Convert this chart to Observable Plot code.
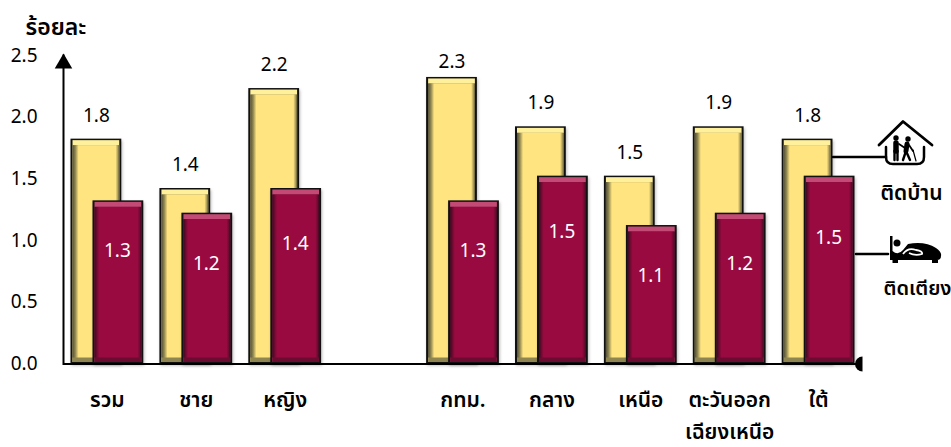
<!DOCTYPE html>
<html><head><meta charset="utf-8">
<script src="https://cdn.jsdelivr.net/npm/d3@7"></script>
<script src="https://cdn.jsdelivr.net/npm/@observablehq/plot@0.6"></script>
<style>html,body{margin:0;padding:0;background:#fff}svg{display:block}</style>
</head><body><div id="c"></div>
<script>
const categories = ["รวม","ชาย","หญิง"," ","กทม.","กลาง","เหนือ","ตะวันออก\nเฉียงเหนือ","ใต้"];
const groups = categories.filter(c => c !== " ");
const homeValues = [1.81,1.41,2.22,2.31,1.91,1.51,1.91,1.81];
const bedValues  = [1.31,1.21,1.41,1.31,1.51,1.11,1.21,1.51];
const homeLabels = ["1.8","1.4","2.2","2.3","1.9","1.5","1.9","1.8"];
const bedLabels  = ["1.3","1.2","1.4","1.3","1.5","1.1","1.2","1.5"];
const yTicks = [0,0.5,1,1.5,2,2.5];
const homeName = "ติดบ้าน", bedName = "ติดเตียง", yTitle = "ร้อยละ";

const home = groups.map((c,i)=>({c,v:homeValues[i],t:homeLabels[i]}));
const bed  = groups.map((c,i)=>({c,v:bedValues[i],t:bedLabels[i]}));

const font = "'Noto Sans','Noto Sans Thai',Tahoma,'DejaVu Sans',sans-serif";
const halfDisc = {draw(ctx,size){const r=Math.sqrt(size/Math.PI);ctx.moveTo(0,-r);ctx.arc(0,0,r,-Math.PI/2,Math.PI/2,true);ctx.closePath();}};

function defs(){
  return ()=>{
    const d=d3.create("svg:defs");
    const grad=(id,stops)=>{const g=d.append("linearGradient").attr("id",id).attr("x1",0).attr("x2",1).attr("y1",0).attr("y2",0);
      stops.forEach(([o,c])=>g.append("stop").attr("offset",o).attr("stop-color",c));};
    grad("gHome",[[0,"#55513a"],[0.06,"#8f8650"],[0.13,"#FFE480"],[0.92,"#FFE480"],[0.97,"#a89a58"],[1,"#5f5a3a"]]);
    grad("gBed",[[0,"#3c0a20"],[0.05,"#6b0b30"],[0.1,"#990A40"],[0.92,"#990A40"],[0.97,"#6b0b30"],[1,"#3c0a20"]]);
    return d.node();
  };
}
function bevelBar(data,dx,top,bottom,grad,edge){
  const o={x:"c",y:"v",dx};
  return [
    Plot.barY(data,{...o,fill:edge,insetTop:-1.5,insetLeft:-0.5,insetRight:-0.5,imageFilter:"drop-shadow(1px 2px 1.5px #0004)"}),
    Plot.barY(data,{...o,fill:top,inset:1.5,insetTop:0}),
    Plot.barY(data,{...o,fill:bottom,inset:1.5,insetTop:5}),
    Plot.barY(data,{...o,fill:grad,insetLeft:1.5,insetRight:1.5,insetBottom:6,insetTop:5})
  ];
}
function icons(){
  return ()=>{
    const g=d3.create("svg:g");
    const line=(d,w=2.5)=>g.append("path").attr("d",d).attr("stroke","#000").attr("stroke-width",w).attr("fill","none").attr("stroke-linecap","round").attr("stroke-linejoin","round");
    const disc=(x,y,r)=>g.append("circle").attr("cx",x).attr("cy",y).attr("r",r).attr("fill","#000");
    // leader lines
    line("M833 157H886",2.6); line("M856 254H888",2.6);
    // house
    line("M879 145L903 121.5L932 145",2.8);
    line("M886 147V157Q886 164 893 164H917Q924 164 924 157V147",2.5);
    // two figures
    disc(896,138,2.7); disc(908,139,2.7);
    line("M896 143V151",5.5);
    line("M894.5 151V160M897.5 151V160",2.4);
    line("M899 144L905 148",1.8);
    line("M907 144L906 151",5);
    line("M906 151L903 160M906 151L910 160",2.4);
    line("M909 145L913 151",1.8);
    line("M913 150L916 161",1.2);
    // bed
    g.append("path").attr("fill","#000").attr("d","M890 236H892.5V251Q898 256 903 250L908 244Q925 241 936 248Q942 252 941 256Q941 260 937 260H938V263H932V260H898V263H892.5V260H890Z");
    disc(897,243,3.5);
    g.append("path").attr("d","M903 254Q908 247 916 250Q923 251 922 254Q915 256 909 253").attr("fill","none").attr("stroke","#fff").attr("stroke-width",1.8);
    return g.node();
  };
}
const maroonLabel=(names,dy)=>Plot.text(bed.filter(d=>names.includes(d.c)),{x:"c",y:"v",text:"t",dx:10,dy,fill:"#fff",fontSize:19});
const yellowLabel=(keep,dy)=>Plot.text(home.filter(keep),{x:"c",y:"v",text:"t",dx:-11,dy,fill:"#000",fontSize:19});

const chart = Plot.plot({
  width:951,height:447,
  marginLeft:63,marginRight:89,marginTop:55,marginBottom:83.5,
  style:{fontFamily:font,background:"#fff",color:"#000",overflow:"hidden"},
  x:{type:"band",domain:categories,paddingInner:0.44,paddingOuter:0.2137,round:false},
  y:{domain:[0,2.5]},
  marks:[
    defs(),
    Plot.frame({anchor:"left",stroke:"#000",strokeWidth:2,strokeOpacity:1}),
    ...bevelBar(home,-11,"#FFF09C","#8F8550","url(#gHome)","#111"),
    ...bevelBar(bed,11,"#C24A74","#6B0B30","url(#gBed)","#111"),
    Plot.ruleY([0],{stroke:"#000",strokeWidth:2}),
    Plot.axisY({ticks:yTicks,tickSize:0,tickPadding:26,fontSize:19,label:null,tickFormat:d3.format(".1f"),fill:"#000"}),
    Plot.axisX({tickSize:0,tickPadding:21,fontSize:21,label:null,lineHeight:1.5,fontWeight:600,fill:"#000",lineAnchor:"top"}),
    Plot.dot([0],{frameAnchor:"top-left",symbol:"triangle",r:6.5,dy:8,fill:"#000"}),
    Plot.dot([0],{frameAnchor:"bottom-right",symbol:halfDisc,r:7.5,fill:"#000"}),
    yellowLabel(d=>d.t!=="2.3",-25),
    yellowLabel(d=>d.t==="2.3",-17),
    maroonLabel(["รวม","ชาย","กทม.","เหนือ","ตะวันออก\nเฉียงเหนือ"],49),
    maroonLabel(["หญิง","กลาง"],54),
    maroonLabel(["ใต้"],60),
    Plot.text([yTitle],{frameAnchor:"top-left",text:d=>d,dx:-38,dy:-37,fontSize:23,fontWeight:600,textAnchor:"start",fill:"#000"}),
    Plot.text([homeName],{frameAnchor:"top-right",text:d=>d,dx:49,dy:130,fontSize:21,fontWeight:600,textAnchor:"middle",fill:"#000"}),
    Plot.text([bedName],{frameAnchor:"top-right",text:d=>d,dx:55,dy:225,fontSize:20,fontWeight:600,textAnchor:"middle",fill:"#000"}),
    icons()
  ]
});
document.getElementById("c").append(chart);
</script></body></html>
